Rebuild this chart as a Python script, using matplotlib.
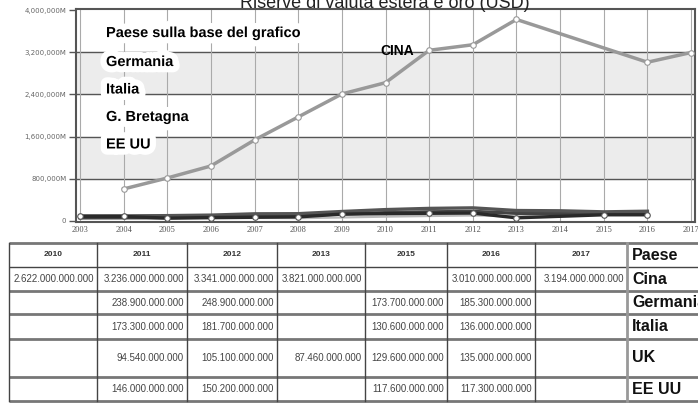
import numpy as np
import matplotlib.pyplot as plt
import matplotlib.patheffects as pe
from matplotlib import font_manager
from matplotlib.ticker import FuncFormatter

years = list(range(2003, 2018))
# riserve in milioni di USD (None = dato mancante)
cina = [None, 607000, 815000, 1043000, 1536000, 1972000, 2408000, 2622000,
        3236000, 3341000, 3821000, None, None, 3010000, 3194000]
germania = [97000, 97200, 101700, 111600, 136200, 138600, 180000, 216000,
            238900, 248900, 198700, 193500, 173700, 185300, None]
italia = [63200, 62400, 65900, 75700, 94000, 105300, 131500, 158500,
          173300, 181700, 145700, 142800, 130600, 136000, None]
uk = [41700, 49700, 43400, 47000, 57300, 53000, 66700, 82400,
      94540, 105100, 87460, 108000, 129600, 135000, None]
usa = [85900, 86800, 54100, 65900, 70600, 77600, 130800, None,
       146000, 150200, 60000, None, 117600, 117300, None]

legenda = ['Germania', 'Italia', 'G. Bretagna', 'EE UU']

tab_anni = ['2010', '2011', '2012', '2013', '2015', '2016', '2017']
tab_paesi = ['Cina', 'Germania', 'Italia', 'UK', 'EE UU']
tab_valori = [
    ['2.622.000.000.000', '3.236.000.000.000', '3.341.000.000.000', '3.821.000.000.000', '', '3.010.000.000.000', '3.194.000.000.000'],
    ['', '238.900.000.000', '248.900.000.000', '', '173.700.000.000', '185.300.000.000', ''],
    ['', '173.300.000.000', '181.700.000.000', '', '130.600.000.000', '136.000.000.000', ''],
    ['', '94.540.000.000', '105.100.000.000', '87.460.000.000', '129.600.000.000', '135.000.000.000', ''],
    ['', '146.000.000.000', '150.200.000.000', '', '117.600.000.000', '117.300.000.000', ''],
]

names = {f.name for f in font_manager.fontManager.ttflist}
narrow = 'Liberation Sans Narrow' if 'Liberation Sans Narrow' in names else 'Liberation Sans'


def pts(xs, ys):
    p = [(x, y) for x, y in zip(xs, ys) if y is not None]
    return [a for a, b in p], [b for a, b in p]


fig = plt.figure(figsize=(6.98, 4.03), dpi=100)
ax = fig.add_axes([76/698, 1-222/403, 619/698, 213/403])

ticks = [0, 800000, 1600000, 2400000, 3200000, 4000000]
for lo, hi in [(800000, 1600000), (2400000, 3200000)]:
    ax.axhspan(lo, hi, color='#ececec', zorder=0)
for y in ticks[1:-1]:
    ax.axhline(y, color='#555555', lw=1, zorder=1)
for x in years:
    ax.axvline(x, color='#aaaaaa', lw=0.8, zorder=1)

mk = dict(marker='o', ms=4, mfc='white', mew=0.8)
x, y = pts(years, uk)
ax.plot(x, y, color='#bbbbbb', lw=1.6, zorder=3)
x, y = pts(years, italia)
ax.plot(x, y, color='#444444', lw=2.4, zorder=3)
x, y = pts(years, germania)
ax.plot(x, y, color='#555555', lw=2.4, zorder=3)
x, y = pts(years, usa)
ax.plot(x, y, color='#2a2a2a', lw=2.4, mec='#555555', zorder=4, **mk)
x, y = pts(years, cina)
ax.plot(x, y, color='#999999', lw=2.5, mec='#999999', zorder=4, **mk)

ax.set_xlim(2002.91, 2017.09)
ax.set_ylim(-19000, 4019000)
ax.set_xticks(years)
ax.set_yticks(ticks)
ax.yaxis.set_major_formatter(FuncFormatter(lambda v, p: '0' if v == 0 else f'{int(v):,}M'))
ax.tick_params(axis='y', length=5, width=1, color='#555555', labelsize=5, labelcolor='#666666', pad=2)
ax.tick_params(axis='x', length=0, labelsize=6, labelcolor='#555555', pad=3)
for lab in ax.get_xticklabels():
    lab.set_family('Liberation Serif')
for s in ax.spines.values():
    s.set_color('#555555')
    s.set_linewidth(1.5)

glow = [pe.withStroke(linewidth=9, foreground='white')]
ttl = ax.text(0.0485, 0.887, 'Paese sulla base del grafico', transform=ax.transAxes,
              family=narrow, weight='bold', fontsize=10.5, va='center', zorder=6,
              path_effects=glow)
for i, name in enumerate(legenda):
    ax.text(0.0485, 0.751 - i*0.129, name, transform=ax.transAxes, family=narrow,
            weight='bold', fontsize=10.5, va='center', zorder=6, path_effects=glow)
ax.text(2010.26, 3223000, 'CINA', family=narrow, weight='bold', fontsize=10,
        ha='center', va='center', zorder=6)

fig.text(385/698, 1-8/403, 'Riserve di valuta estera e oro (USD)', ha='center',
         va='baseline', fontsize=13, family='Liberation Sans', color='#222222')

# tabella
tb = fig.add_axes([0, 0, 1, 1], zorder=-1)
tb.set_xlim(0, 698)
tb.set_ylim(403, 0)
tb.axis('off')
cols = [9, 97, 187, 277, 365, 447, 535, 627, 720]
rows = [243, 267, 291, 314, 339, 377, 401]

fig.canvas.draw()
bb = ttl.get_window_extent()
tb.plot([bb.x0, bb.x1], [403 - bb.y0 + 1, 403 - bb.y0 + 1], color='#111111', lw=1.2)

for i, r in enumerate(rows):
    thin = i == 1
    tb.plot([cols[0], 698], [r, r], color='#444444' if thin else '#777777',
            lw=1 if thin else 2, solid_capstyle='butt')
for j, c in enumerate(cols[:-1]):
    last = j == len(cols) - 2
    tb.plot([c, c], [rows[0], rows[-1]], color='#999999' if last else '#444444',
            lw=2 if last else 1)

for j, a in enumerate(tab_anni):
    tb.text((cols[j] + cols[j+1]) / 2, (rows[0] + rows[1]) / 2, a, ha='center',
            va='center', fontsize=6, weight='bold', family=narrow, color='#333333')
tb.text(cols[-2] + 5, (rows[0] + rows[1]) / 2, 'Paese', ha='left', va='center',
        fontsize=11.5, weight='bold', family=narrow, color='#111111')
for i, paese in enumerate(tab_paesi):
    yc = (rows[i+1] + rows[i+2]) / 2
    tb.text(cols[-2] + 5, yc, paese, ha='left', va='center', fontsize=11.5,
            weight='bold', family=narrow, color='#111111')
    for j, v in enumerate(tab_valori[i]):
        if v:
            tb.text(cols[j+1] - 3, yc, v, ha='right', va='center', fontsize=7,
                    family=narrow, color='#444444')

fig.savefig('out.png', dpi=100)
